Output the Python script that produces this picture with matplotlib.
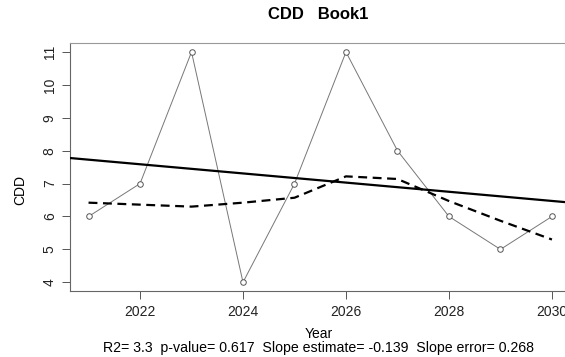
import numpy as np
import matplotlib
matplotlib.use("Agg")
import matplotlib.pyplot as plt

plt.rcParams['font.family'] = ['Liberation Sans', 'DejaVu Sans']

years = [2021, 2022, 2023, 2024, 2025, 2026, 2027, 2028, 2029, 2030]
cdd = [6, 7, 11, 4, 7, 11, 8, 6, 5, 6]
# smoothed curve (dashed)
smooth = [6.42, 6.36, 6.30, 6.42, 6.57, 7.22, 7.14, 6.47, 5.87, 5.30]
xticks = [2022, 2024, 2026, 2028, 2030]
yticks = [4, 5, 6, 7, 8, 9, 10, 11]
stats_txt = "R2= 3.3  p-value= 0.617  Slope estimate= -0.139  Slope error= 0.268"

x = np.array(years, dtype=float)
y = np.array(cdd, dtype=float)
slope, icpt = np.polyfit(x, y, 1)

fig = plt.figure(figsize=(5.65, 3.57), dpi=100)
ax = fig.add_axes([0.1239, 0.1835, 0.8858, 0.6966])

xpad = (x.max() - x.min()) * 0.04
ypad = (y.max() - y.min()) * 0.04
xlo, xhi = x.min() - xpad, x.max() + xpad
ax.set_xlim(xlo, xhi)
ax.set_ylim(y.min() - ypad, y.max() + ypad)

ax.plot(x, y, color='#777777', lw=0.7, zorder=2)
ax.plot(x, y, 'o', ms=4, mfc='white', mec='#555555', mew=0.7, zorder=3)

xl = np.array([xlo, xhi])
ax.plot(xl, icpt + slope * xl, color='black', lw=1.6, zorder=4)
ax.plot(x, smooth, color='black', lw=1.6, ls=(0, (4, 2.5)), zorder=4)

ax.set_xticks(xticks)
ax.set_yticks(yticks)
ax.tick_params(direction='out', length=6, width=0.7, color='#555555',
               labelsize=10, labelcolor='#222222')
for lab in ax.get_yticklabels():
    lab.set_rotation(90)
    lab.set_va('center')
for s in ax.spines.values():
    s.set_color('#666666')
    s.set_linewidth(0.8)
ax.spines['top'].set_color('#999999')
ax.spines['right'].set_visible(False)

fig.text(0.563, 0.958, "CDD   Book1", ha='center', va='center',
         fontsize=12, fontweight='bold')
fig.text(0.035, 0.468, "CDD", rotation=90, ha='center', va='center', fontsize=10)
fig.text(0.565, 0.064, "Year", ha='center', va='center', fontsize=10)
fig.text(0.563, 0.025, stats_txt, ha='center', va='center', fontsize=10.2)

fig.savefig("out.png", dpi=100)
